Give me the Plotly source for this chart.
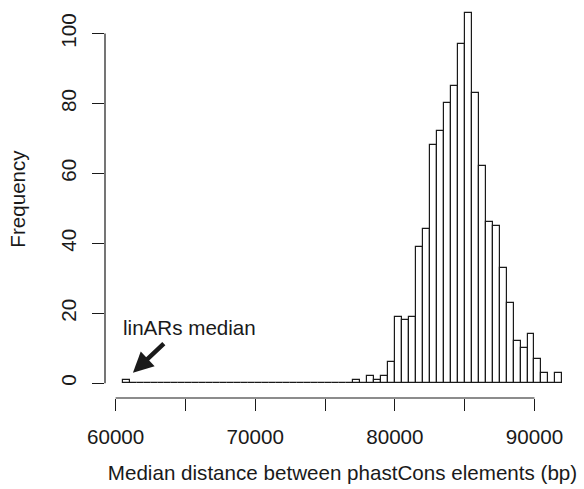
import plotly.graph_objects as go

# ---- data ----
bin_start = 60500
bin_width = 500
counts = [1] + [0] * 32 + [
    1, 0, 2, 1, 2, 6, 19, 18, 19, 39, 44, 68, 72, 80, 85, 97, 106,
    83, 62, 46, 45, 33, 23, 12, 10, 14, 7, 3, 0, 3,
]
x_tickvals = [60000, 65000, 70000, 75000, 80000, 85000, 90000]
x_ticktext = ["60000", "", "70000", "", "80000", "", "90000"]
y_tickvals = [0, 20, 40, 60, 80, 100]
y_ticktext = ["0", "20", "40", "60", "80", "100"]
annot_text = "linARs median"
annot_pos = (65300, 15.9)
arrow_head = (61240, 3.0)
arrow_tail = (63560, 11.7)
x_title = "Median distance between phastCons elements (bp)"
y_title = "Frequency"

centers = [bin_start + bin_width * (i + 0.5) for i in range(len(counts))]

FONT = "Liberation Sans, Arial, Helvetica, sans-serif"
FS = 20.6
INK = "#1a1a1a"

fig = go.Figure()
fig.add_trace(go.Bar(
    x=centers, y=counts, width=bin_width,
    marker=dict(color="white", line=dict(color=INK, width=1.2)),
    hoverinfo="skip", showlegend=False,
))

# R-style axis lines spanning only the tick range
fig.add_shape(type="line", xref="x", yref="paper",
              x0=min(x_tickvals), x1=max(x_tickvals), y0=0, y1=0,
              line=dict(color=INK, width=1.2))
fig.add_shape(type="line", xref="paper", yref="y",
              x0=0, x1=0, y0=min(y_tickvals), y1=max(y_tickvals),
              line=dict(color=INK, width=1.2))

fig.add_annotation(x=annot_pos[0], y=annot_pos[1], text=annot_text,
                   showarrow=False, font=dict(family=FONT, size=FS, color=INK))
fig.add_annotation(x=arrow_head[0], y=arrow_head[1], ax=arrow_tail[0], ay=arrow_tail[1],
                   axref="x", ayref="y", text="", showarrow=True,
                   arrowhead=2, arrowsize=0.9, arrowwidth=4.5, arrowcolor=INK,
                   standoff=0, startstandoff=0)

fig.update_layout(
    width=584, height=489, autosize=False,
    margin=dict(l=105.4, r=3.7, t=0, b=90.5, pad=0),
    plot_bgcolor="white", paper_bgcolor="white",
    font=dict(family=FONT, size=FS, color=INK),
    bargap=0,
)
fig.update_xaxes(
    range=[59240, 93260], showgrid=False, zeroline=False, showline=False,
    tickmode="array", tickvals=x_tickvals, ticktext=x_ticktext,
    ticks="outside", ticklen=12, tickwidth=1.2, tickcolor=INK,
    ticklabelstandoff=8,
    title=dict(text=x_title, standoff=18, font=dict(size=FS)),
)
fig.update_yaxes(
    range=[-4.24, 109.6], showgrid=False, zeroline=False, showline=False,
    tickmode="array", tickvals=y_tickvals, ticktext=y_ticktext,
    ticks="outside", ticklen=12, tickwidth=1.2, tickcolor=INK,
    tickangle=-90, ticklabelstandoff=8,
    title=dict(text=y_title, standoff=25, font=dict(size=FS)),
)

fig.write_html("out.html")
